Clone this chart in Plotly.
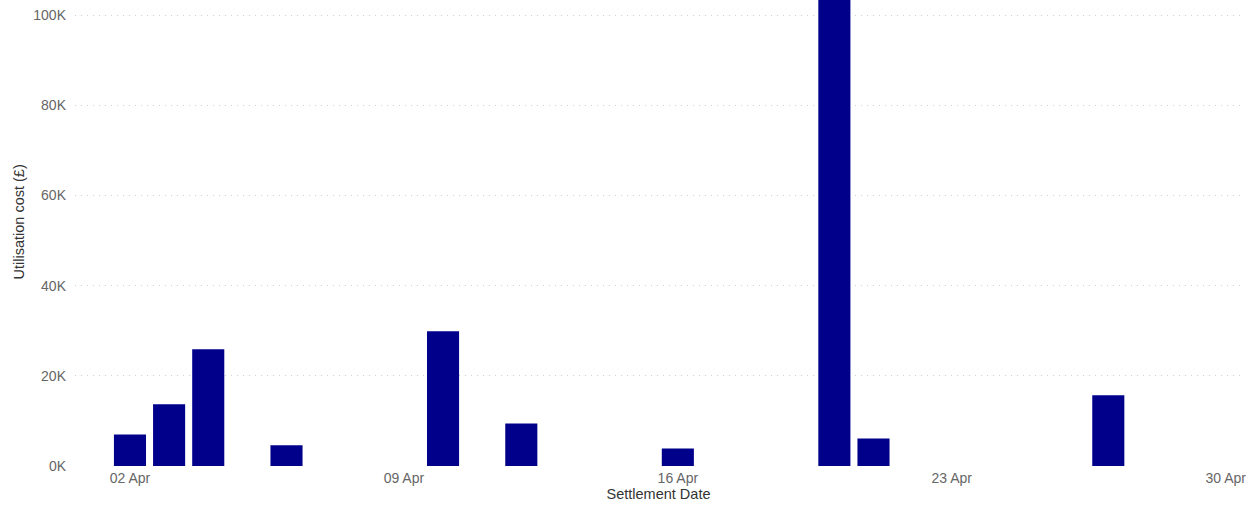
import plotly.graph_objects as go

dates = ["2024-04-02", "2024-04-03", "2024-04-04", "2024-04-06", "2024-04-10",
         "2024-04-12", "2024-04-16", "2024-04-20", "2024-04-21", "2024-04-27"]
costs = [7000, 13700, 25900, 4600, 29900, 9400, 3900, 118000, 6100, 15700]

x_ticks = ["2024-04-02", "2024-04-09", "2024-04-16", "2024-04-23", "2024-04-30"]
y_ticks = [0, 20000, 40000, 60000, 80000, 100000]
y_tick_text = ["0K", "20K", "40K", "60K", "80K", "100K"]

DAY_MS = 86400000

fig = go.Figure(go.Bar(
    x=dates, y=costs,
    width=0.82 * DAY_MS,
    marker=dict(color="#00008B", line=dict(width=0)),
))

fig.update_layout(
    width=1258, height=506,
    margin=dict(l=75, r=16, t=0, b=40, autoexpand=False),
    paper_bgcolor="white", plot_bgcolor="white",
    font=dict(family="Liberation Sans, Arial, sans-serif", size=14, color="#666666"),
    showlegend=False,
    xaxis=dict(
        type="date",
        range=["2024-03-31 14:17", "2024-04-30 10:00"],
        tickvals=x_ticks,
        tickformat="%d %b",
        showgrid=False, zeroline=False, showline=False,
        ticks="",
        ticklabelstandoff=2,
        automargin=False,
        title=dict(text="Settlement Date", font=dict(size=14.5, color="#333333"), standoff=2),
    ),
    yaxis=dict(
        range=[0, 103333],
        tickvals=y_ticks, ticktext=y_tick_text,
        showgrid=True, gridcolor="#d0d0d0", griddash="1px,5px", gridwidth=1,
        zeroline=False, showline=False,
        ticks="",
        ticklabelstandoff=8,
        automargin=False,
    ),
    annotations=[dict(
        text="Utilisation cost (£)", textangle=-90,
        xref="paper", yref="paper",
        x=-(75 - 18) / 1167, y=(465.5 - 222) / 466,
        xanchor="center", yanchor="middle", showarrow=False,
        font=dict(size=14.5, color="#333333"),
    )],
)

fig.write_html(
    "out.html",
    config={"displayModeBar": False},
    post_script="document.body.style.margin='0';document.body.style.overflow='hidden';",
)
